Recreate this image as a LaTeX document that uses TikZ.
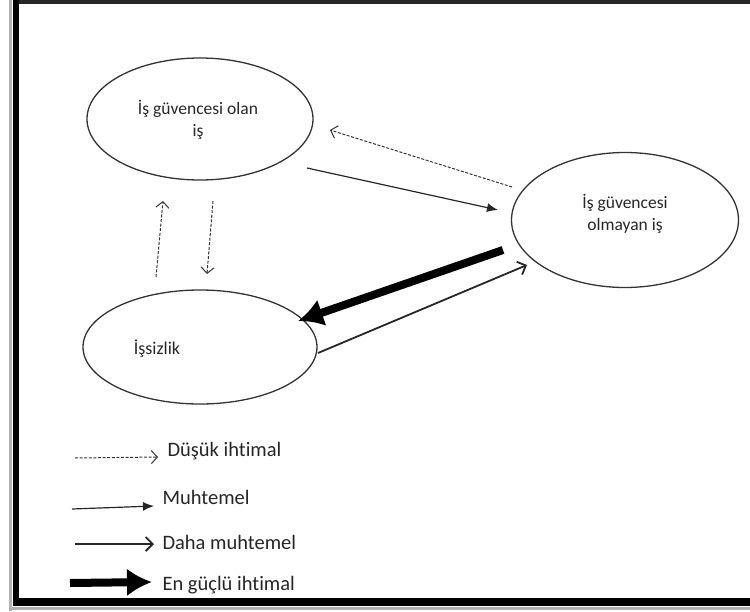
\documentclass[tikz,border=0pt]{standalone}
\usepackage{fontspec}
\setmainfont{Carlito}[Ligatures={NoCommon}]
\usetikzlibrary{shapes.geometric,arrows.meta}
\begin{document}
\begin{tikzpicture}[x=1pt,y=-1pt,
  state/.style={ellipse,draw=black!80,line width=1.3pt,inner sep=0pt},
  lbl/.style={font=\fontsize{17.5}{22}\selectfont,align=center,text=black!85},
  leg/.style={font=\fontsize{20.5}{24}\selectfont,anchor=west,text=black!85},
  low/.style={draw=black!80,line width=1pt,dash pattern=on 3pt off 1.6pt,
    -{Straight Barb[length=6pt,width=13pt,line width=1pt]}},
  likely/.style={draw=black!85,line width=1.2pt,-{Latex[length=11pt,width=9pt]}},
  morelikely/.style={draw=black!85,line width=1.8pt,
    -{Straight Barb[length=7pt,width=14pt,line width=1.8pt]}},
  strongest/.style={draw=black,line width=8pt,-{Latex[length=25pt,width=28pt]}},
]
\useasboundingbox (0,0) rectangle (750,611);

% page frame
\fill[black!30] (9,0) rectangle (12,611);
\fill[black!30] (9,607) rectangle (750,610);
\fill[black!85] (13,0) rectangle (750,4);
\fill[black] (13,0) rectangle (19,606);
\fill[black] (13,598) rectangle (750,606);

% states
\node[state,minimum width=226pt,minimum height=122pt] (secure) at (200,119) {};
\node[lbl] (secureText) at (198,120) {İş güvencesi olan\\iş};
\node[state,minimum width=227pt,minimum height=135pt] (insecure) at (625,220) {};
\node[lbl] (insecureText) at (625,214) {İş güvencesi\\olmayan iş};
\node[state,minimum width=234pt,minimum height=114pt] (unemp) at (200,347) {};
\node[lbl,font=\fontsize{18}{22}\selectfont] (unempText) at (157,349) {İşsizlik};

% connector end points
\coordinate (a1) at (512,187); \coordinate (a2) at (330,130);
\coordinate (b1) at (307,168); \coordinate (b2) at (498,210);
\coordinate (c1) at (156,277); \coordinate (c2) at (163,201);
\coordinate (d1) at (213,201); \coordinate (d2) at (207,274);
\coordinate (e1) at (503,250); \coordinate (e2) at (298,321);
\coordinate (f1) at (318,353); \coordinate (f2) at (527,265);

% transitions
\draw[low] (a1) -- (a2);
\draw[likely] (b1) -- (b2);
\draw[low] (c1) -- (c2);
\draw[low] (d1) -- (d2);
\draw[strongest] (e1) -- (e2);
\draw[morelikely] (f1) -- (f2);

% legend
\coordinate (l1a) at (75,458);  \coordinate (l1b) at (158,457);
\coordinate (l2a) at (72,509);  \coordinate (l2b) at (154,506);
\coordinate (l3a) at (75,544);  \coordinate (l3b) at (154,544);
\coordinate (l4a) at (70,583);  \coordinate (l4b) at (152,582);
\draw[low] (l1a) -- (l1b);
\draw[likely] (l2a) -- (l2b);
\draw[morelikely] (l3a) -- (l3b);
\draw[strongest] (l4a) -- (l4b);
\node[leg] (k1) at (164,451) {Düşük ihtimal};
\node[leg] (k2) at (159,497) {Muhtemel};
\node[leg] (k3) at (159,542) {Daha muhtemel};
\node[leg] (k4) at (159,585) {En güçlü ihtimal};
\end{tikzpicture}
\end{document}
